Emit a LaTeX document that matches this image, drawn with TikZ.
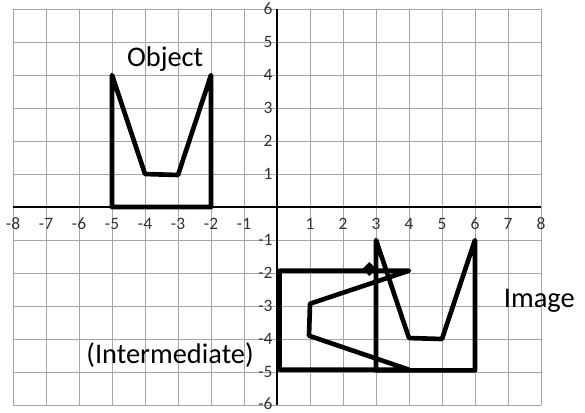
\documentclass[tikz,border=0pt]{standalone}
\usepackage{fontspec}
\setmainfont{Carlito}
\usetikzlibrary{positioning}

\begin{document}
\begin{tikzpicture}[
    gridline/.style={draw=gray!70, line width=0.8pt},
    axisline/.style={draw=black, line width=2.4pt},
    shapeline/.style={draw=black, line width=4pt, line join=round, line cap=round},
    ticklabel/.style={font=\fontsize{15}{16}\selectfont, text=black!80, inner sep=0pt},
    caption/.style={font=\fontsize{24.5}{28}\selectfont, inner sep=0pt} % shape names
]
\useasboundingbox (-8.394,-6.212) rectangle (9.333,6.273);

% Grid
\foreach \x in {-8,...,8} \draw[gridline] (\x,-6) -- (\x,6);
\foreach \y in {-6,...,6} \draw[gridline] (-8,\y) -- (8,\y);

% Axes
\draw[axisline] (-8,0) -- (8,0);
\draw[axisline] (0,-6) -- (0,6);

% Tick labels
\foreach \x in {-8,...,-1,1,2,...,8} \node[ticklabel] (xt\x) at (\x,-0.5) {\x};
\foreach \y in {-5,...,-1,1,2,...,6} \node[ticklabel, anchor=east] (yt\y) at (-0.13,\y) {\y};
\node[ticklabel, anchor=east] (yt-6) at (-0.13,-5.95) {-6};

% Object
\draw[shapeline] (-5,0) -- (-5,4) -- (-4,1) -- (-3,0.97) -- (-2,4) -- (-2,0) -- cycle;

% Intermediate
\draw[shapeline] (0.08,-1.93) -- (4,-1.93) -- (1,-2.93) -- (0.97,-3.9) -- (4,-4.93) -- (0.08,-4.93) -- cycle;

% Image
\draw[shapeline] (3,-4.95) -- (3,-1) -- (4,-3.97) -- (5,-4) -- (6,-1) -- (6,-4.95) -- cycle;

% Small diamond near (3,-2)
\node[fill=black, rotate=45, minimum size=0.3cm, inner sep=0pt] (pivot) at (2.8,-1.88) {};

% Captions
\node[caption] (object) at (-3.39,4.48) {Object};
\node[caption] (intermediate) at (-3.24,-4.48) {(Intermediate)};
\node[caption] (image) at (7.95,-2.85) {Image};

\end{tikzpicture}
\end{document}
